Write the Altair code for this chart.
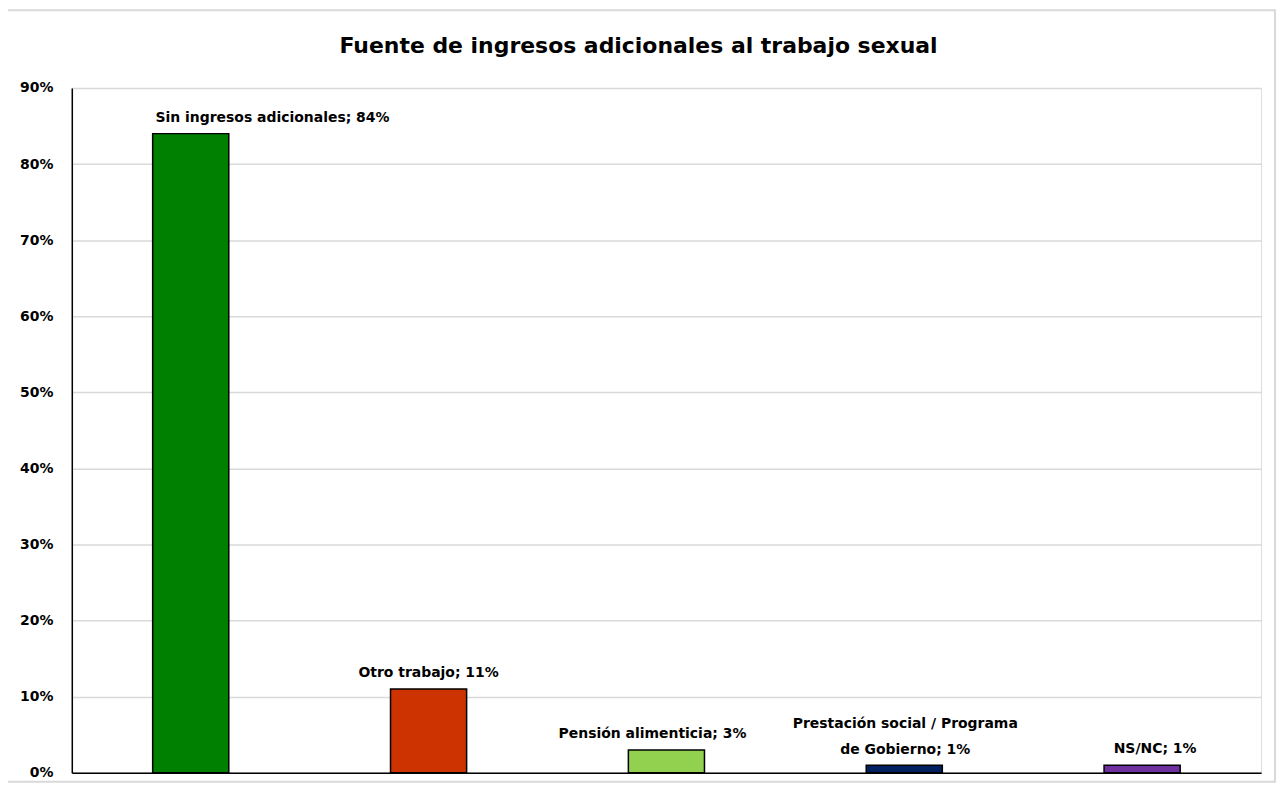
import altair as alt
import pandas as pd

categories = [
    "Sin ingresos adicionales",
    "Otro trabajo",
    "Pensión alimenticia",
    "Prestación social / Programa de Gobierno",
    "NS/NC",
]
values = [0.84, 0.11, 0.03, 0.01, 0.01]
labels = [
    "Sin ingresos adicionales; 84%",
    "Otro trabajo; 11%",
    "Pensión alimenticia; 3%",
    "Prestación social / Programa\nde Gobierno; 1%",
    "NS/NC; 1%",
]
colors = ["#008000", "#CC3300", "#92D050", "#002060", "#7030A0"]
label_dx = [82, 0, -14, 1, 13]
label_dy = [-9, -9, -9, -34, -9]
title_text = "Fuente de ingresos adicionales al trabajo sexual"

df = pd.DataFrame({"cat": categories, "val": values, "label": labels})

W, H = 1193, 687
FONT = "DejaVu Sans"

x = alt.X("cat:N", sort=categories,
          scale=alt.Scale(paddingInner=0.68, paddingOuter=0.34),
          axis=alt.Axis(title=None, labels=False, ticks=False, domain=True,
                        domainColor="black", domainWidth=1.5, grid=False))
y = alt.Y("val:Q", scale=alt.Scale(domain=[0, 0.9], nice=False),
          axis=alt.Axis(title=None, format=".0%", values=[i / 10 for i in range(10)],
                        ticks=False, domain=True, domainColor="black", domainWidth=1.5,
                        gridColor="#d9d9d9", gridWidth=1.5, labelPadding=19,
                        labelFont=FONT, labelFontSize=14, labelFontWeight="bold",
                        labelColor="black"))

base = alt.Chart(df)

bars = base.mark_bar(stroke="black", strokeWidth=1.5).encode(
    x=x, y=y,
    color=alt.Color("cat:N", sort=categories,
                    scale=alt.Scale(domain=categories, range=colors), legend=None),
)

text_layers = []
for c, d, dy in zip(categories, label_dx, label_dy):
    text_layers.append(
        base.transform_filter(alt.datum.cat == c).mark_text(
            baseline="bottom", dy=dy, dx=d, font=FONT, fontSize=14,
            fontWeight="bold", color="black", lineBreak="\n", lineHeight=26,
        ).encode(x=alt.X("cat:N", sort=categories), y="val:Q", text="label:N")
    )

frame = alt.Chart(alt.Data(values=[{}])).mark_rect(
    fill=None, stroke="#d9d9d9", strokeWidth=2, clip=False
).encode(
    x=alt.value(-65), x2=alt.value(W + 14),
    y=alt.value(-78), y2=alt.value(H + 9),
)

title = alt.Chart(alt.Data(values=[{"t": title_text}])).mark_text(
    font=FONT, fontSize=22, fontWeight="bold", color="black",
    align="center", baseline="middle",
).encode(x=alt.value(W / 2 - 28), y=alt.value(-42), text="t:N")

chart = alt.layer(frame, bars, *text_layers, title).properties(
    width=W, height=H,
    autosize=alt.AutoSizeParams(type="none"),
    padding={"left": 64, "top": 79, "right": 16, "bottom": 10},
).configure_view(stroke=None).configure(background="white")

chart.save("out.html", embed_options={"renderer": "svg", "actions": False})
